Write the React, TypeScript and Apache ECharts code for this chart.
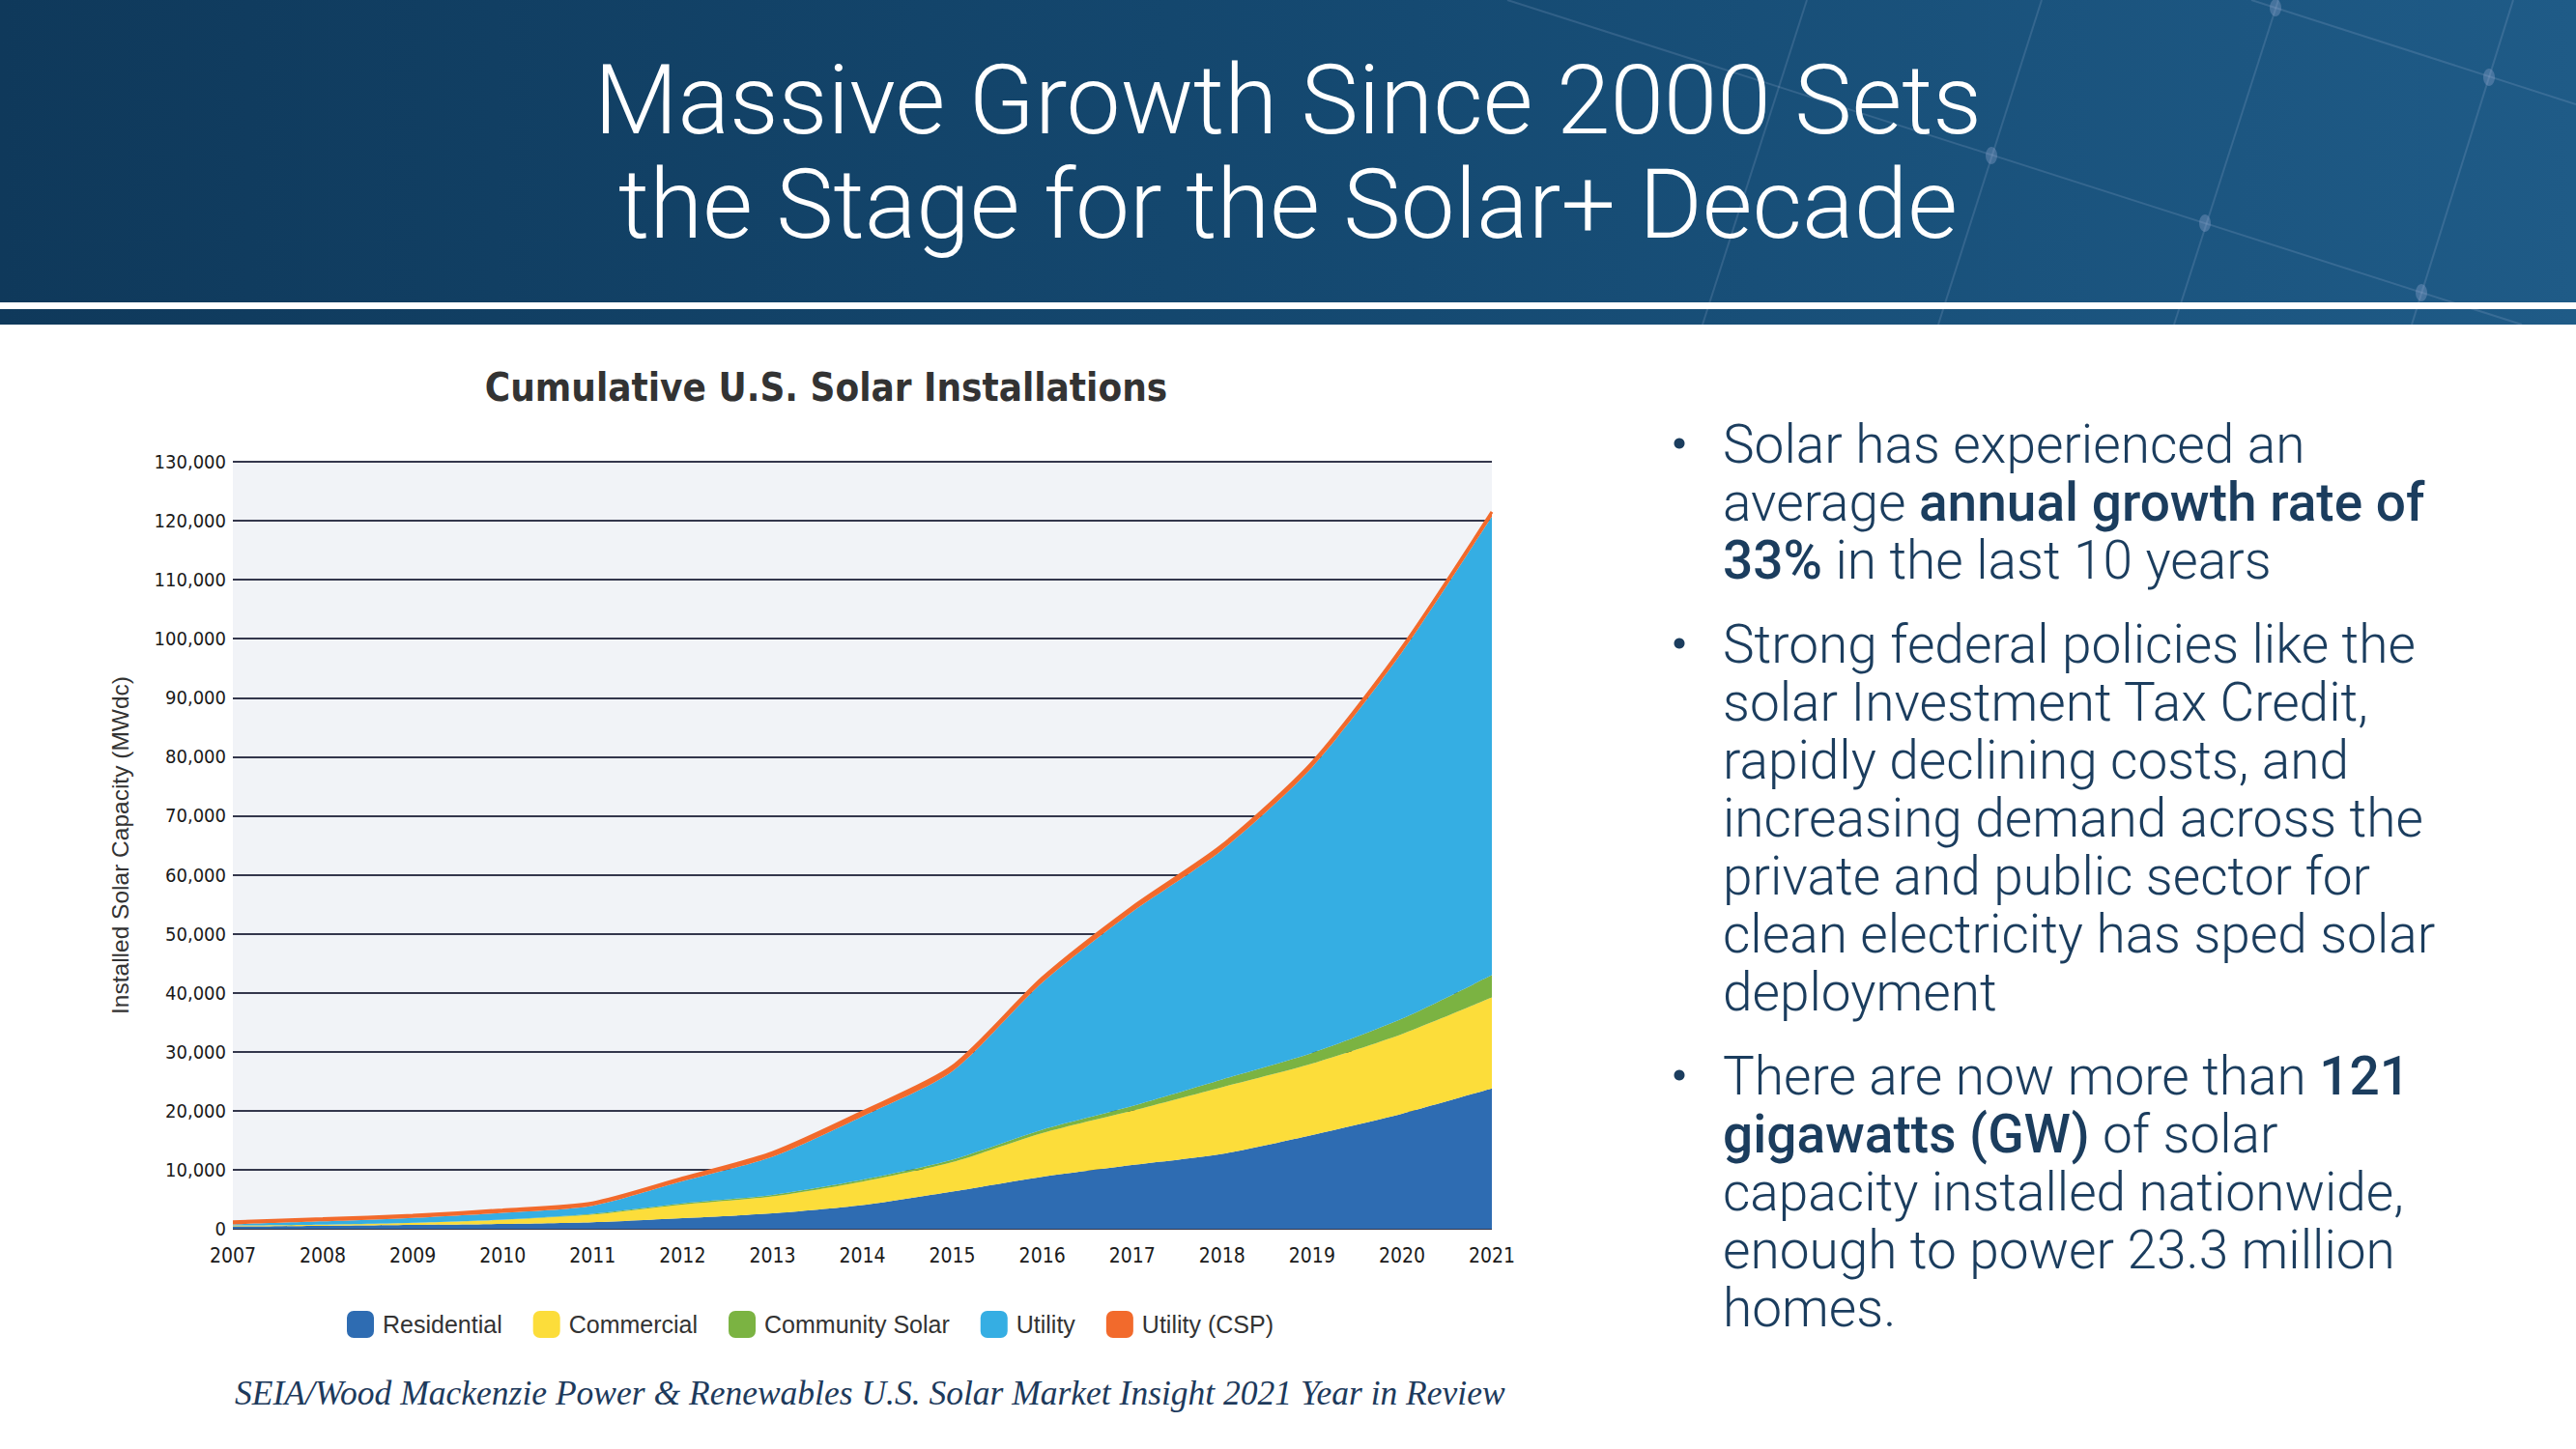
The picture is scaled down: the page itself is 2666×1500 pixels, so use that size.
import React, { useEffect, useRef } from "react";
import * as echarts from "echarts";

// ---------- data ----------
const years = ["2007", "2008", "2009", "2010", "2011", "2012", "2013", "2014", "2015", "2016", "2017", "2018", "2019", "2020", "2021"];
const residential = [400, 500, 650, 800, 1100, 1800, 2600, 4000, 6300, 8800, 10800, 12700, 15900, 19500, 23800];
const commercial = [150, 200, 350, 700, 1300, 2300, 2900, 4000, 5000, 7400, 9200, 11300, 12100, 13500, 15400];
const communitySolar = [0, 0, 20, 60, 150, 200, 250, 300, 400, 600, 800, 1300, 1800, 2600, 3800];
const utility = [200, 550, 830, 1140, 1350, 3750, 6450, 10750, 15000, 24900, 32900, 38900, 48400, 62100, 77700];
const utilityCSP = [450, 450, 450, 500, 500, 550, 700, 750, 800, 800, 800, 800, 800, 800, 800];

const seriesNames = ["Residential", "Commercial", "Community Solar", "Utility", "Utility (CSP)"];
const seriesColors = ["#2E6CB2", "#FCDD3A", "#7BB342", "#35AEE3", "#F26A2C"];

const slideTitle = ["Massive Growth Since 2000 Sets", "the Stage for the Solar+ Decade"];
const chartTitle = "Cumulative U.S. Solar Installations";
const yAxisName = "Installed Solar Capacity (MWdc)";
const sourceText = "SEIA/Wood Mackenzie Power & Renewables U.S. Solar Market Insight 2021 Year in Review";
const bulletParagraphs = [
  ["Solar has experienced an", "average {b|annual growth rate of}", "{b|33%} in the last 10 years"],
  [
    "Strong federal policies like the",
    "solar Investment Tax Credit,",
    "rapidly declining costs, and",
    "increasing demand across the",
    "private and public sector for",
    "clean electricity has sped solar",
    "deployment",
  ],
  [
    "There are now more than {b|121}",
    "{b|gigawatts (GW)} of solar",
    "capacity installed nationwide,",
    "enough to power 23.3 million",
    "homes.",
  ],
];

// ---------- style ----------
const NAVY = "#1B3D5E";
const COND = "'DejaVu Sans Condensed', 'Liberation Sans', sans-serif";

function buildGraphic() {
  const g: any[] = [];
  g.push({
    type: "rect",
    silent: true,
    shape: { x: 0, y: 0, width: 2666, height: 336 },
    style: {
      fill: new echarts.graphic.LinearGradient(0, 0, 1, 0, [
        { offset: 0, color: "#0F395B" },
        { offset: 0.55, color: "#154A72" },
        { offset: 1, color: "#1F5B87" },
      ]),
    },
  });
  const deco = [
    [1560, 0, 2610, 336],
    [2330, 0, 2666, 108],
    [2113, 0, 2006, 336],
    [2358, 0, 2250, 336],
    [2601, 0, 2496, 336],
    [1870, 0, 1762, 336],
  ];
  deco.forEach(([x1, y1, x2, y2]) =>
    g.push({
      type: "line",
      silent: true,
      shape: { x1, y1, x2, y2 },
      style: { stroke: "rgba(190,205,235,0.16)", lineWidth: 2 },
    })
  );
  [
    [2061, 161],
    [2282, 231],
    [2506, 303],
    [2355, 8],
    [2576, 80],
  ].forEach(([cx, cy]) =>
    g.push({
      type: "ellipse",
      silent: true,
      shape: { cx, cy, rx: 6, ry: 9 },
      style: { fill: "rgba(150,170,210,0.35)" },
    })
  );
  g.push({
    type: "rect",
    silent: true,
    shape: { x: 0, y: 313, width: 2666, height: 7 },
    style: { fill: "#ffffff" },
  });
  slideTitle.forEach((t, i) =>
    g.push({
      type: "text",
      silent: true,
      x: 1333,
      y: [103, 211][i],
      style: {
        text: t,
        fill: "#ffffff",
        fontFamily: "Roboto",
        fontWeight: 300,
        fontSize: 100,
        align: "center",
        verticalAlign: "middle",
      },
    })
  );
  g.push({
    type: "text",
    silent: true,
    x: 855,
    y: 401,
    style: {
      text: chartTitle,
      fill: "#333333",
      fontFamily: COND,
      fontWeight: "bold",
      fontSize: 40,
      align: "center",
      verticalAlign: "middle",
    },
  });
  g.push({
    type: "text",
    silent: true,
    x: 243,
    y: 1442,
    style: {
      text: sourceText,
      fill: "#1D3A5C",
      fontFamily: "'Liberation Serif', serif",
      fontStyle: "italic",
      fontSize: 35.5,
      align: "left",
      verticalAlign: "middle",
    },
  });
  const firstBaselines = [479, 686, 1133];
  bulletParagraphs.forEach((lines, p) => {
    const b0 = firstBaselines[p];
    g.push({
      type: "circle",
      silent: true,
      shape: { cx: 1738, cy: b0 - 20, r: 5.5 },
      style: { fill: NAVY },
    });
    lines.forEach((line, i) =>
      g.push({
        type: "text",
        silent: true,
        x: 1783,
        y: b0 + i * 60 - 19,
        style: {
          text: line,
          fill: NAVY,
          fontFamily: "Roboto",
          fontWeight: 300,
          fontSize: 55,
          align: "left",
          verticalAlign: "middle",
          rich: {
            b: { fill: NAVY, fontFamily: "Roboto", fontWeight: 500, fontSize: 55 },
          },
        },
      })
    );
  });
  return g;
}

function buildOption(): any {
  const dataSets = [residential, commercial, communitySolar, utility, utilityCSP];
  return {
    animation: false,
    backgroundColor: "#ffffff",
    grid: {
      left: 241,
      right: 1122,
      top: 478,
      bottom: 228,
      show: true,
      backgroundColor: "#F1F3F7",
      borderWidth: 0,
    },
    legend: {
      left: 354,
      top: 1352,
      itemWidth: 28,
      itemHeight: 28,
      itemGap: 32,
      icon: "roundRect",
      data: seriesNames,
      textStyle: { fontSize: 25, color: "#333333", fontFamily: "'Liberation Sans', sans-serif", padding: [0, 0, 0, 4] },
    },
    xAxis: {
      type: "category",
      data: years,
      boundaryGap: false,
      axisLine: { show: false },
      axisTick: { show: false },
      splitLine: { show: false },
      axisLabel: { color: "#1a1a1a", fontSize: 21, fontFamily: COND, margin: 17 },
    },
    yAxis: {
      type: "value",
      min: 0,
      max: 130000,
      interval: 10000,
      name: yAxisName,
      nameLocation: "middle",
      nameRotate: 90,
      nameGap: 104,
      nameTextStyle: { fontSize: 24.5, color: "#333333", fontFamily: "'Liberation Sans', sans-serif" },
      axisLine: { show: false },
      axisTick: { show: false },
      axisLabel: {
        color: "#1a1a1a",
        fontSize: 20,
        margin: 7,
        fontFamily: COND,
        formatter: (v: number) => v.toLocaleString("en-US"),
      },
      splitLine: { lineStyle: { color: "#34374C", width: 2 } },
    },
    series: dataSets.map((d, i) => ({
      name: seriesNames[i],
      type: "line",
      stack: "total",
      data: d,
      smooth: 0.25,
      symbol: "none",
      itemStyle: { color: seriesColors[i] },
      lineStyle: { width: i === 4 ? 3 : 0, color: seriesColors[i] },
      areaStyle: { color: seriesColors[i], opacity: 1 },
      emphasis: { disabled: true },
      z: 2,
    })),
    graphic: buildGraphic(),
  };
}

export default function App() {
  const ref = useRef<HTMLDivElement>(null);
  useEffect(() => {
    if (!ref.current) return;
    const chart = echarts.init(ref.current, null, { renderer: "svg", width: 2666, height: 1500 });
    chart.setOption(buildOption());
    return () => chart.dispose();
  }, []);
  return (
    <div
      ref={ref}
      style={{ position: "fixed", left: 0, top: 0, width: 2666, height: 1500, background: "#ffffff" }}
    />
  );
}
